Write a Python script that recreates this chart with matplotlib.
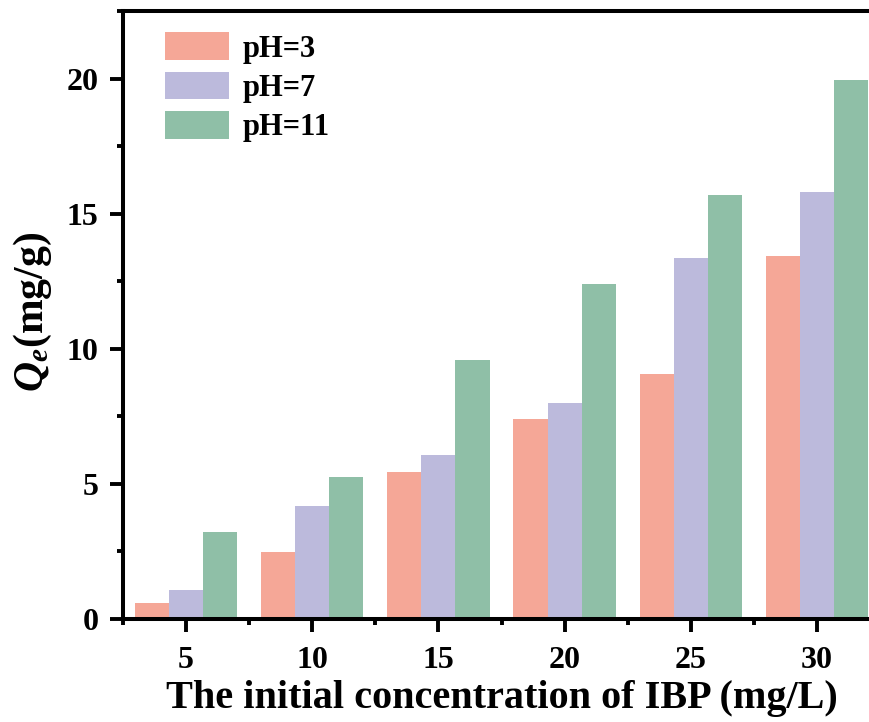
import matplotlib
matplotlib.use("Agg")
import matplotlib.pyplot as plt
from matplotlib.ticker import MultipleLocator
import numpy as np

categories = ["5", "10", "15", "20", "25", "30"]
series_names = ["pH=3", "pH=7", "pH=11"]
ph3 = [0.58, 2.47, 5.43, 7.40, 9.05, 13.43]
ph7 = [1.07, 4.20, 6.06, 8.01, 13.37, 15.79]
ph11 = [3.21, 5.27, 9.59, 12.40, 15.69, 19.96]
colors = ["#F5A797", "#BCBADC", "#8FBFA7"]

plt.rcParams["font.family"] = ["Liberation Serif", "DejaVu Serif"]
plt.rcParams["font.weight"] = "bold"
plt.rcParams["mathtext.fontset"] = "custom"
plt.rcParams["mathtext.rm"] = "Liberation Serif:bold"
plt.rcParams["mathtext.it"] = "Liberation Serif:italic:bold"
plt.rcParams["mathtext.bf"] = "Liberation Serif:bold"
plt.rcParams["mathtext.bfit"] = "Liberation Serif:italic:bold"

fig = plt.figure(figsize=(8.7, 7.22), dpi=100)
ax = fig.add_axes([123/870, (722-619)/722, (880-123)/870, (619-11)/722])

x = np.arange(1, len(categories) + 1)
w = 0.27
for k, (vals, name) in enumerate(zip([ph3, ph7, ph11], series_names)):
    ax.bar(x + (k - 1) * w, vals, width=w, color=colors[k], label=name, linewidth=0)

ax.set_xlim(0.5, 6.5)
ax.set_ylim(0, 22.5)
ax.set_xticks(x)
ax.set_xticklabels(categories)
ax.set_xticks(x - 0.5, minor=True)
ax.yaxis.set_major_locator(MultipleLocator(5))
ax.yaxis.set_minor_locator(MultipleLocator(2.5))

for s in ax.spines.values():
    s.set_linewidth(2.9)
ax.spines["right"].set_visible(False)

ax.tick_params(which="major", direction="out", length=9.5, width=2.8, labelsize=23)
ax.tick_params(which="minor", direction="out", length=4.5, width=2.8)
ax.tick_params(axis="x", which="major", pad=10)
ax.tick_params(axis="y", which="major", pad=8)
ax.tick_params(top=False, right=False, which="both")
for lab in ax.get_xticklabels() + ax.get_yticklabels():
    lab.set_fontweight("bold")

ax.set_xlabel("The initial concentration of IBP (mg/L)", fontsize=29, fontweight="bold")
ax.xaxis.set_label_coords(0.5, -0.1)
fig.text(33/870, 1 - 312/722, r"$\mathbfit{Q}_{\mathbfit{e}}$(mg/g)", rotation=90,
         ha="center", va="center", fontsize=30, fontweight="bold")

leg = ax.legend(loc="upper left", bbox_to_anchor=(0.0555, 0.965), frameon=False,
                fontsize=22, handlelength=2.09, handleheight=1.01, labelspacing=0.27,
                handletextpad=0.46, borderaxespad=0, borderpad=0)
for t in leg.get_texts():
    t.set_fontweight("bold")

fig.savefig("out.png", dpi=100)
